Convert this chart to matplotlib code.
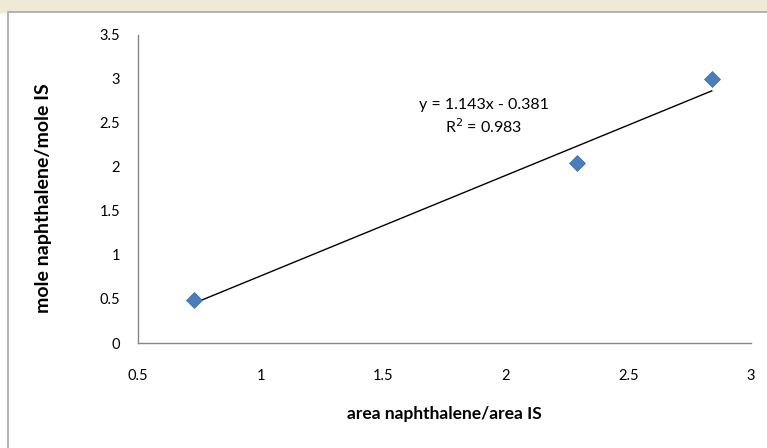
import matplotlib

matplotlib.use("Agg")
import matplotlib.pyplot as plt
import numpy as np
from matplotlib.patches import Rectangle

# data
area_ratio = [0.73, 2.29, 2.84]
mole_ratio = [0.49, 2.04, 3.00]
slope, intercept, r2 = 1.143, -0.381, 0.983

x_ticks = [0.5, 1, 1.5, 2, 2.5, 3]
y_ticks = [0, 0.5, 1, 1.5, 2, 2.5, 3, 3.5]

plt.rcParams["font.family"] = ["Lato", "DejaVu Sans"]

fig = plt.figure(figsize=(7.67, 4.48), dpi=100)
# pale page strip at the top, and the chart frame
fig.patches.append(Rectangle((0, 1 - 12 / 448), 1, 12 / 448, transform=fig.transFigure,
                             color="#efead6", zorder=-2))
fig.patches.append(Rectangle((8 / 767, -0.01), 1.1, 1 - 12 / 448 + 0.01,
                             transform=fig.transFigure, facecolor="white",
                             edgecolor="#a6a6a6", lw=1.2, zorder=-1))

ax = fig.add_axes([138 / 767, 1 - 343 / 448, (751 - 138) / 767, (343 - 35) / 448])
ax.set_facecolor("none")

xs = np.array([min(area_ratio), max(area_ratio)])
ax.plot(xs, slope * xs + intercept, color="black", lw=1.0, zorder=2)
ax.plot(area_ratio, mole_ratio, ls="none", marker="D", ms=8.5, color="#4a7ebb",
        mec="#3d6ea6", mew=0.5, zorder=3, clip_on=False)

ax.text(1.91, 2.57, f"y = {slope}x - {abs(intercept)}\nR$^2$ = {r2}", ha="center",
        va="center", fontsize=11.5, linespacing=1.3)

ax.set_xlim(0.5, 3)
ax.set_ylim(0, 3.5)
ax.set_xticks(x_ticks)
ax.set_xticklabels([f"{v:g}" for v in x_ticks])
ax.set_yticks(y_ticks)
ax.set_yticklabels([f"{v:g}" for v in y_ticks])
ax.tick_params(axis="both", length=0, labelsize=10.5)
ax.tick_params(axis="x", pad=19)
ax.tick_params(axis="y", pad=13)
for s in ("top", "right"):
    ax.spines[s].set_visible(False)
for s in ("left", "bottom"):
    ax.spines[s].set_color("#868686")
    ax.spines[s].set_linewidth(1.0)

ax.set_xlabel("area naphthalene/area IS", fontsize=12.5, fontweight="bold", labelpad=16)
ax.set_ylabel("mole naphthalene/mole IS", fontsize=14, fontweight="bold")
ax.yaxis.set_label_coords(-0.14, 0.47)

fig.savefig("out.png", dpi=100)
